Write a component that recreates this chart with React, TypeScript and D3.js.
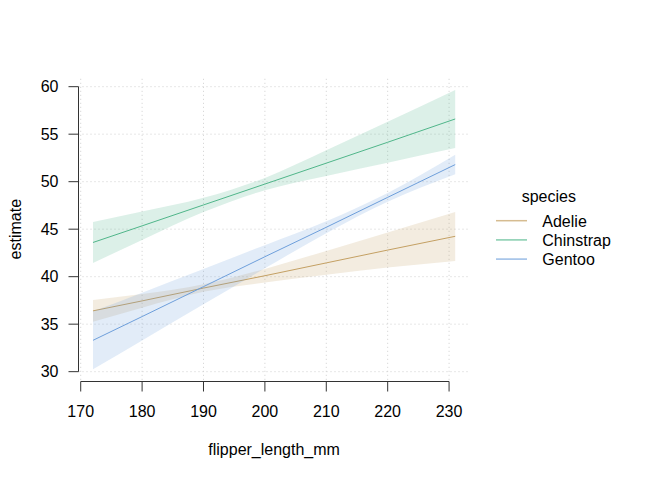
import React from "react";
import * as d3 from "d3";

const flipper = [172, 180, 190, 200, 210, 220, 231];
const species = ["Adelie", "Chinstrap", "Gentoo"];
const colors = ["#C4A063", "#50B68A", "#6E9FDB"];

const adelieEst = [36.4, 37.45, 38.8, 40.1, 41.45, 42.8, 44.25];
const adelieLow = [35.25, 36.73, 38.4, 39.38, 40.19, 40.96, 41.65];
const adelieHigh = [37.55, 38.17, 39.2, 40.82, 42.71, 44.64, 46.8];

const chinEst = [43.6, 45.35, 47.55, 49.75, 51.95, 54.15, 56.6];
const chinLow = [41.45, 43.85, 46.8, 49.1, 50.6, 52.0, 53.55];
const chinHigh = [45.75, 46.85, 48.3, 50.4, 53.3, 56.3, 59.65];

const gentooEst = [33.3, 35.8, 38.95, 42.1, 45.2, 48.35, 51.8];
const gentooLow = [30.25, 33.28, 37.09, 40.88, 44.57, 47.88, 50.77];
const gentooHigh = [36.35, 38.32, 40.81, 43.32, 45.83, 48.82, 52.83];

const xTicks = [170, 180, 190, 200, 210, 220, 230];
const yTicks = [30, 35, 40, 45, 50, 55, 60];

const series = [
  { est: adelieEst, low: adelieLow, high: adelieHigh },
  { est: chinEst, low: chinLow, high: chinHigh },
  { est: gentooEst, low: gentooLow, high: gentooHigh },
];

export default function App() {
  const W = 672;
  const H = 480;
  const x = d3.scaleLinear().domain([169.64, 233.36]).range([78.5, 469.7]);
  const y = d3.scaleLinear().domain([29.07, 60.83]).range([380.5, 78.8]);
  const font = "'Liberation Sans', Arial, sans-serif";
  const fs = 16;

  const area = d3
    .area<number>()
    .x((_, i) => x(flipper[i]))
    .y0((d) => y(d))
    .y1((_, i) => 0);

  const makeArea = (low: number[], high: number[]) =>
    d3
      .area<number>()
      .x((d) => x(d))
      .y0((_, i) => y(low[i]))
      .y1((_, i) => y(high[i]))
      .curve(d3.curveMonotoneX)(flipper) as string;

  const makeLine = (est: number[]) =>
    d3
      .line<number>()
      .x((d) => x(d))
      .y((_, i) => y(est[i]))(flipper) as string;

  void area;

  const [x0, x1] = x.range();
  const [yb, yt] = y.range();
  const axisColor = "#333333";

  return (
    <svg
      width={W}
      height={H}
      style={{ position: "absolute", left: 0, top: 0, background: "#fff" }}
      fontFamily={font}
    >
      <rect x={0} y={0} width={W} height={H} fill="#fff" />
      {/* grid */}
      <g stroke="#cfcfcf" strokeWidth={1} strokeDasharray="1 3">
        {xTicks.map((t) => (
          <line key={"gx" + t} x1={x(t)} x2={x(t)} y1={yt} y2={yb} />
        ))}
        {yTicks.map((t) => (
          <line key={"gy" + t} x1={x0} x2={x1} y1={y(t)} y2={y(t)} />
        ))}
      </g>
      {/* ribbons and lines */}
      {series.map((s, i) => (
        <g key={species[i]}>
          <path d={makeArea(s.low, s.high)} fill={colors[i]} fillOpacity={0.2} stroke="none" />
          <path d={makeLine(s.est)} fill="none" stroke={colors[i]} strokeWidth={1} />
        </g>
      ))}
      {/* y axis */}
      <g stroke={axisColor} strokeWidth={1}>
        <line x1={x0} x2={x0} y1={y(30)} y2={y(60)} />
        {yTicks.map((t) => (
          <line key={"ty" + t} x1={x0 - 10} x2={x0} y1={y(t)} y2={y(t)} />
        ))}
      </g>
      {yTicks.map((t) => (
        <text
          key={"ly" + t}
          x={x0 - 20}
          y={y(t)}
          dy="0.35em"
          textAnchor="end"
          fontSize={fs}
          fill="#000"
        >
          {t}
        </text>
      ))}
      {/* x axis */}
      <g stroke={axisColor} strokeWidth={1}>
        <line x1={x(170)} x2={x(230)} y1={yb + 1} y2={yb + 1} />
        {xTicks.map((t) => (
          <line key={"tx" + t} x1={x(t)} x2={x(t)} y1={yb + 1} y2={yb + 11} />
        ))}
      </g>
      {xTicks.map((t) => (
        <text key={"lx" + t} x={x(t)} y={417} textAnchor="middle" fontSize={fs} fill="#000">
          {t}
        </text>
      ))}
      {/* axis titles */}
      <text x={(x0 + x1) / 2} y={455} textAnchor="middle" fontSize={fs} fill="#000">
        flipper_length_mm
      </text>
      <text
        transform={`translate(21, ${(y(30) + y(60)) / 2}) rotate(-90)`}
        textAnchor="middle"
        fontSize={fs}
        fill="#000"
      >
        estimate
      </text>
      {/* legend */}
      <text x={521.7} y={202} fontSize={fs} fill="#000">
        species
      </text>
      {species.map((sp, i) => (
        <g key={"lg" + sp}>
          <line
            x1={496}
            x2={527}
            y1={220.7 + i * 19.2}
            y2={220.7 + i * 19.2}
            stroke={colors[i]}
            strokeOpacity={0.7}
            strokeWidth={1.5}
          />
          <text x={542.3} y={226.5 + i * 19.2} fontSize={fs} fill="#000">
            {sp}
          </text>
        </g>
      ))}
    </svg>
  );
}
